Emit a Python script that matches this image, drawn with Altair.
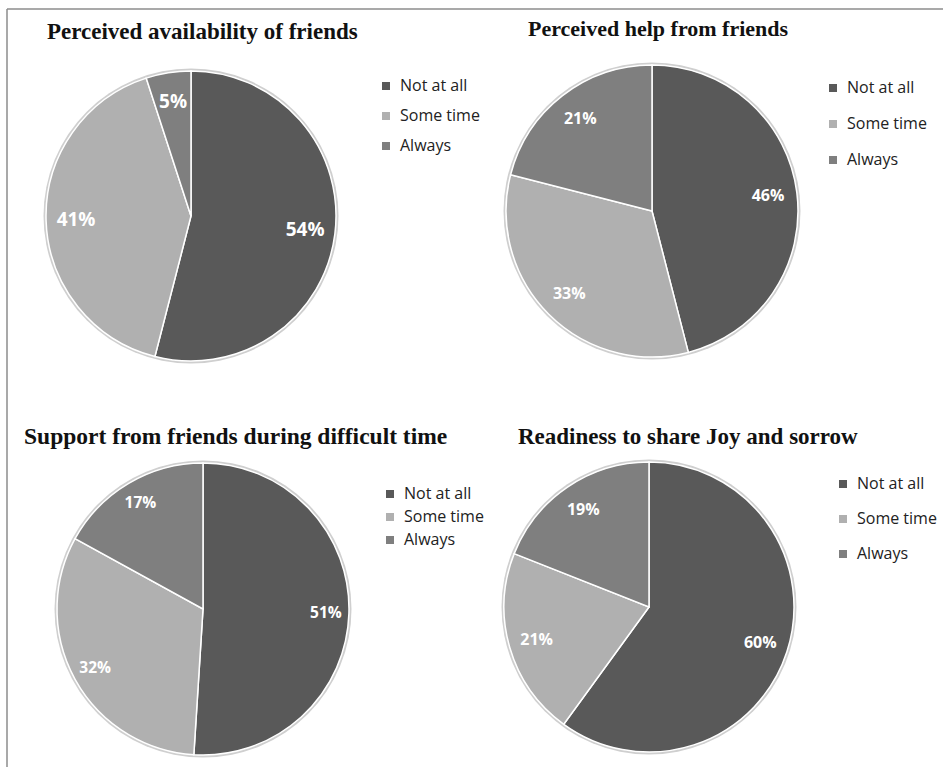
import altair as alt
import pandas as pd

# Response categories and the share (%) of respondents in each, per question
CATEGORIES = ["Not at all", "Some time", "Always"]
COLORS = ["#595959", "#b0b0b0", "#7f7f7f"]

TITLES = [
    "Perceived availability of friends",
    "Perceived help from friends",
    "Support from friends during difficult time",
    "Readiness to share Joy and sorrow",
]
AVAILABILITY = [54, 41, 5]
HELP = [46, 33, 21]
SUPPORT = [51, 32, 17]
READINESS = [60, 21, 19]

SERIES = [AVAILABILITY, HELP, SUPPORT, READINESS]

# Layout for each panel: pie centre, radius, label ring, label size,
# title anchor and legend placement
PANELS = [
    dict(cx=191, cy=216, r=145, lr=115, lfs=19, tx=47, ty=32, tfs=23,
         lx=378, ly=78, rp=14),
    dict(cx=652, cy=211, r=146, lr=117, lfs=16, tx=528, ty=29, tfs=22,
         lx=825, ly=80, rp=20),
    dict(cx=203, cy=609, r=146, lr=123, lfs=15.5, tx=24, ty=437, tfs=23.5,
         lx=382, ly=486, rp=7),
    dict(cx=649, cy=607, r=145, lr=117, lfs=16, tx=518, ty=437, tfs=23,
         lx=835, ly=476, rp=19),
]

layers = []

# Thin frame along the top and left edges
frame_df = pd.DataFrame({"k": [0]})
layers.append(
    alt.Chart(frame_df).mark_rule(color="#8c8c8c", strokeWidth=1.5).encode(
        x=alt.value(7), x2=alt.value(943), y=alt.value(9)
    )
)
layers.append(
    alt.Chart(frame_df).mark_rule(color="#8c8c8c", strokeWidth=1.5).encode(
        x=alt.value(7), y=alt.value(9), y2=alt.value(767)
    )
)

for title, values, p in zip(TITLES, SERIES, PANELS):
    df = pd.DataFrame({
        "category": CATEGORIES,
        "value": values,
        "idx": list(range(len(CATEGORIES))),
    })
    center = dict(x=alt.value(p["cx"]), y=alt.value(p["cy"]))

    # soft grey rim behind the pie
    rim = alt.Chart(df).mark_arc(radius=p["r"] + 2.5, color="#cfcfcf").encode(
        theta=alt.Theta("sum(value):Q"), **center
    )

    slices = alt.Chart(df).mark_arc(
        radius=p["r"], stroke="white", strokeWidth=1.5
    ).encode(
        theta=alt.Theta("value:Q", stack=True),
        order=alt.Order("idx:O"),
        color=alt.Color(
            "category:N",
            scale=alt.Scale(domain=CATEGORIES, range=COLORS),
            legend=alt.Legend(
                title=None,
                orient="none",
                legendX=p["lx"],
                legendY=p["ly"],
                symbolType="square",
                symbolSize=64,
                symbolStrokeWidth=0,
                labelFont="Open Sans",
                labelFontSize=16,
                labelColor="#222222",
                labelOffset=6,
                rowPadding=p["rp"],
            ),
        ),
        **center,
    )

    labels = alt.Chart(df).transform_calculate(
        label="datum.value + '%'"
    ).mark_text(
        radius=p["lr"], font="Open Sans", fontWeight="bold",
        fontSize=p["lfs"], color="white"
    ).encode(
        theta=alt.Theta("value:Q", stack=True),
        order=alt.Order("idx:O"),
        text="label:N",
        **center,
    )

    heading = alt.Chart(pd.DataFrame({"title": [title]})).mark_text(
        font="Liberation Serif", fontWeight="bold", fontSize=p["tfs"],
        color="#111111", align="left", baseline="middle"
    ).encode(
        text="title:N", x=alt.value(p["tx"]), y=alt.value(p["ty"])
    )

    layers += [rim, slices, labels, heading]

chart = alt.layer(*layers).resolve_scale(
    color="independent", theta="independent"
).properties(
    width=943, height=767, padding=0,
    autosize=alt.AutoSizeParams(type="none"),
    background="white",
).configure_view(stroke=None)

chart.save("out.html", embed_options={"renderer": "svg", "actions": False})
